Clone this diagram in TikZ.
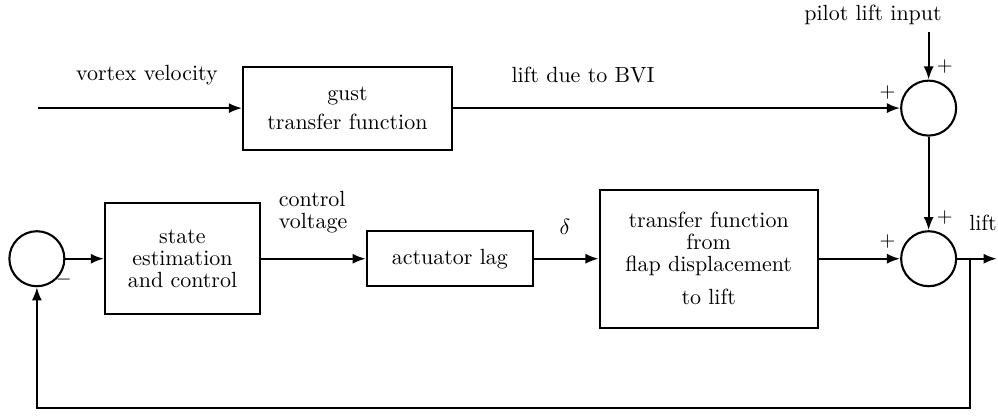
\documentclass[tikz,border=0pt]{standalone}
\usetikzlibrary{calc, positioning, arrows.meta}

\begin{document}
\begin{tikzpicture}[>={Latex[length=6pt, width=4.6pt]}, line width=0.95pt,
    block/.style={draw, align=center, inner sep=2pt},
    sumnode/.style={draw, circle, minimum size=0.88cm, inner sep=0pt},
    sign/.style={font=\small, inner sep=0pt}]
  \useasboundingbox (0, 0) rectangle (15.97, 6.72);

  % upper path: gust disturbance
  \coordinate (vin) at (0.61, 4.99);
  \node[block, minimum width=3.34cm, minimum height=1.33cm] (gust) at (5.56, 4.99)
    {gust\\[1pt]transfer function};
  \node[sumnode] (sumBVI) at (14.86, 4.99) {};
  \coordinate (pilot) at (14.86, 6.21);

  % lower path: control loop
  \node[sumnode] (sumFB) at (0.59, 2.58) {};
  \node[block, minimum width=2.48cm, minimum height=1.78cm] (est) at (2.92, 2.58)
    {state\\[-2pt]estimation\\[-2pt]and control};
  \node[block, minimum width=2.66cm, minimum height=0.88cm] (lag) at (7.20, 2.58)
    {actuator lag};
  \node[block, minimum width=3.49cm, minimum height=2.21cm] (flap) at (11.34, 2.58)
    {transfer function\\[-2pt]from\\[-2pt]flap displacement\\[3pt]to lift};
  \node[sumnode] (sumLift) at (14.86, 2.58) {};
  \coordinate (branch) at (15.52, 2.58);
  \coordinate (out) at (15.95, 2.58);
  \coordinate (fbend) at (15.52, 0.19);

  % signal labels
  \node at (2.35, 5.52) {vortex velocity};
  \node at (9.33, 5.52) {lift due to BVI};
  \node at (13.97, 6.48) {pilot lift input};
  \node[align=left] at (5.01, 3.33) {control\\[-2pt]voltage};
  \node at (9.04, 3.09) {$\delta$};
  \node at (15.73, 3.15) {lift};

  % signs at the summing junctions
  \node[sign] at ($(sumBVI)+(-0.66, 0.25)$) {$+$};
  \node[sign] at ($(sumBVI)+(0.26, 0.66)$) {$+$};
  \node[sign] at ($(sumLift)+(-0.66, 0.28)$) {$+$};
  \node[sign] at ($(sumLift)+(0.26, 0.66)$) {$+$};
  \node[sign] at ($(sumFB)+(0.43, -0.33)$) {$-$};

  \draw[->] (vin) -- (gust);
  \draw[->] (gust) -- (sumBVI);
  \draw[->] (pilot) -- (sumBVI);
  \draw[->] (sumBVI) -- (sumLift);
  \draw[->] (sumFB) -- (est);
  \draw[->] (est) -- (lag);
  \draw[->] (lag) -- (flap);
  \draw[->] (flap) -- (sumLift);
  \draw[->] (sumLift) -- (out);
  \draw[->] (branch) -- (fbend) -| (sumFB);
\end{tikzpicture}
\end{document}
